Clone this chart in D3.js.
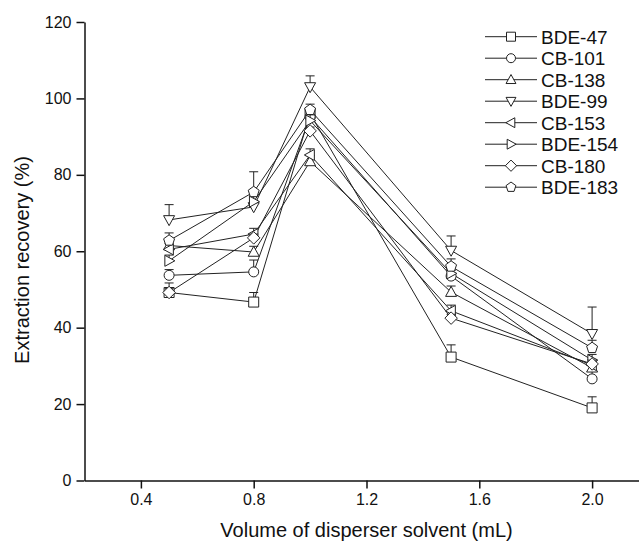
<!DOCTYPE html>
<html>
<head>
<meta charset="utf-8">
<script src="https://cdn.jsdelivr.net/npm/d3@7"></script>
<style>
  body { margin: 0; background: #fff; }
  svg text { font-family: "Liberation Sans", Arial, sans-serif; fill: #111; }
</style>
</head>
<body>
<div id="chart-area"></div>
<script>
// disperser solvent volumes (mL)
let volumes = [0.5, 0.8, 1.0, 1.5, 2.0];

let seriesNames = ["BDE-47", "CB-101", "CB-138", "BDE-99", "CB-153", "BDE-154", "CB-180", "BDE-183"];
let seriesSymbols = ["square", "circle", "up", "down", "left", "right", "diamond", "pentagon"];

// recovery (%) per series, same order as volumes
let bde47 = [49.2, 46.7, 96.0, 32.3, 19.0];
let cb101 = [53.7, 54.6, 95.2, 53.5, 26.6];
let cb138 = [61.5, 59.8, 83.5, 49.3, 29.5];
let bde99 = [68.2, 71.6, 103.0, 60.2, 38.4];
let cb153 = [60.5, 64.5, 85.2, 44.4, 30.2];
let bde154 = [57.5, 73.0, 94.2, 54.2, 31.5];
let cb180 = [49.2, 63.5, 91.5, 42.5, 30.5];
let bde183 = [62.8, 75.5, 97.0, 56.0, 34.7];

// upper error bars (SD)
let bde47Err = [2.5, 2.5, 1.5, 3.2, 2.9];
let cb101Err = [1.5, 3.1, 1.5, 1.5, 2.0];
let cb138Err = [1.5, 1.5, 1.5, 1.6, 1.5];
let bde99Err = [4.0, 1.5, 2.9, 3.8, 7.0];
let cb153Err = [1.5, 1.5, 1.6, 1.5, 1.5];
let bde154Err = [1.5, 1.5, 1.5, 1.5, 1.5];
let cb180Err = [1.0, 1.0, 1.0, 1.0, 1.0];
let bde183Err = [2.0, 5.3, 1.5, 2.0, 2.0];

let xTicks = [0.4, 0.8, 1.2, 1.6, 2.0];
let yTicks = [0, 20, 40, 60, 80, 100, 120];

let allValues = [bde47, cb101, cb138, bde99, cb153, bde154, cb180, bde183];
let allErrors = [bde47Err, cb101Err, cb138Err, bde99Err, cb153Err, bde154Err, cb180Err, bde183Err];

let series = seriesNames.map(function(name, i) {
  return {
    name: name,
    symbol: seriesSymbols[i],
    points: volumes.map(function(v, j) {
      return { x: v, y: allValues[i][j], err: allErrors[i][j] };
    })
  };
});

let width = 639, height = 544;

let svg = d3
  .select("#chart-area")
  .append("svg")
  .attr("width", width)
  .attr("height", height);

let xScale = d3.scaleLinear().domain([0.2, 2.2]).range([84.5, 648.5]);
let yScale = d3.scaleLinear().domain([0, 120]).range([480.5, 22]);

// custom open symbols, r = half size
function symbolPath(type, r) {
  let p = [];
  if (type === "square") {
    p = [[-r, -r], [r, -r], [r, r], [-r, r]];
  } else if (type === "up") {
    p = [[0, -r * 1.15], [r * 1.1, r * 0.85], [-r * 1.1, r * 0.85]];
  } else if (type === "down") {
    p = [[0, r * 1.15], [r * 1.1, -r * 0.85], [-r * 1.1, -r * 0.85]];
  } else if (type === "left") {
    p = [[-r * 1.15, 0], [r * 0.85, -r * 1.1], [r * 0.85, r * 1.1]];
  } else if (type === "right") {
    p = [[r * 1.15, 0], [-r * 0.85, -r * 1.1], [-r * 0.85, r * 1.1]];
  } else if (type === "diamond") {
    p = [[0, -r * 1.25], [r * 1.25, 0], [0, r * 1.25], [-r * 1.25, 0]];
  } else if (type === "pentagon") {
    for (let k = 0; k < 5; k++) {
      let a = -Math.PI / 2 + k * 2 * Math.PI / 5;
      p.push([r * 1.15 * Math.cos(a), r * 1.15 * Math.sin(a)]);
    }
  }
  if (type === "circle") {
    return "M" + (-r) + ",0A" + r + "," + r + " 0 1,0 " + r + ",0A" + r + "," + r + " 0 1,0 " + (-r) + ",0Z";
  }
  return "M" + p.map(function(q) { return q[0].toFixed(2) + "," + q[1].toFixed(2); }).join("L") + "Z";
}

// axes
let xAxis = d3.axisBottom(xScale).tickValues(xTicks).tickFormat(d3.format(".1f")).tickSize(8).tickSizeOuter(0).tickPadding(5);
let yAxis = d3.axisLeft(yScale).tickValues(yTicks).tickFormat(d3.format("d")).tickSize(8).tickSizeOuter(0).tickPadding(5);

let gx = svg.append("g").attr("transform", "translate(0," + yScale(0) + ")").call(xAxis);
let gy = svg.append("g").attr("transform", "translate(" + xScale(0.2) + ",0)").call(yAxis);

[gx, gy].forEach(function(g) {
  g.selectAll("path, line").attr("stroke", "#111").attr("stroke-width", 1.5);
  g.selectAll("text").style("font-size", "16px").attr("fill", "#111");
});

svg.append("text")
  .attr("x", (xScale(0.2) + xScale(2.2)) / 2)
  .attr("y", 537)
  .attr("text-anchor", "middle")
  .style("font-size", "20px")
  .text("Volume of disperser solvent (mL)");

svg.append("text")
  .attr("transform", "translate(29,260) rotate(-90)")
  .attr("text-anchor", "middle")
  .style("font-size", "20px")
  .text("Extraction recovery (%)");

let line = d3.line()
  .x(function(d) { return xScale(d.x); })
  .y(function(d) { return yScale(d.y); });

let plot = svg.append("g");

// connecting lines
plot.selectAll(".series-line")
  .data(series)
  .enter()
  .append("path")
  .attr("class", "series-line")
  .attr("d", function(d) { return line(d.points); })
  .attr("fill", "none")
  .attr("stroke", "#222")
  .attr("stroke-width", 1);

// error bars (upper only) and markers, series by series
series.forEach(function(s) {
  let g = plot.append("g");
  g.selectAll(".err")
    .data(s.points)
    .enter()
    .append("path")
    .attr("d", function(d) {
      let x = xScale(d.x), y0 = yScale(d.y), y1 = yScale(d.y + d.err);
      return "M" + x + "," + y0 + "V" + y1 + "M" + (x - 4.5) + "," + y1 + "H" + (x + 4.5);
    })
    .attr("stroke", "#222")
    .attr("stroke-width", 1)
    .attr("fill", "none");
  g.selectAll(".mark")
    .data(s.points)
    .enter()
    .append("path")
    .attr("transform", function(d) { return "translate(" + xScale(d.x) + "," + yScale(d.y) + ")"; })
    .attr("d", symbolPath(s.symbol, 5))
    .attr("fill", "#fff")
    .attr("stroke", "#222")
    .attr("stroke-width", 1);
});

// legend
let legend = svg.append("g");
let legendItems = legend.selectAll("g")
  .data(series)
  .enter()
  .append("g")
  .attr("transform", function(d, i) { return "translate(0," + (36.7 + i * 21.5) + ")"; });

legendItems.append("line")
  .attr("x1", 485).attr("x2", 537)
  .attr("y1", 0).attr("y2", 0)
  .attr("stroke", "#222")
  .attr("stroke-width", 1);

legendItems.append("path")
  .attr("transform", "translate(511,0)")
  .attr("d", function(d) { return symbolPath(d.symbol, 4.5); })
  .attr("fill", "#fff")
  .attr("stroke", "#222")
  .attr("stroke-width", 1);

legendItems.append("text")
  .attr("x", 541)
  .attr("y", 7)
  .style("font-size", "19px")
  .text(function(d) { return d.name; });
</script>
</body>
</html>
